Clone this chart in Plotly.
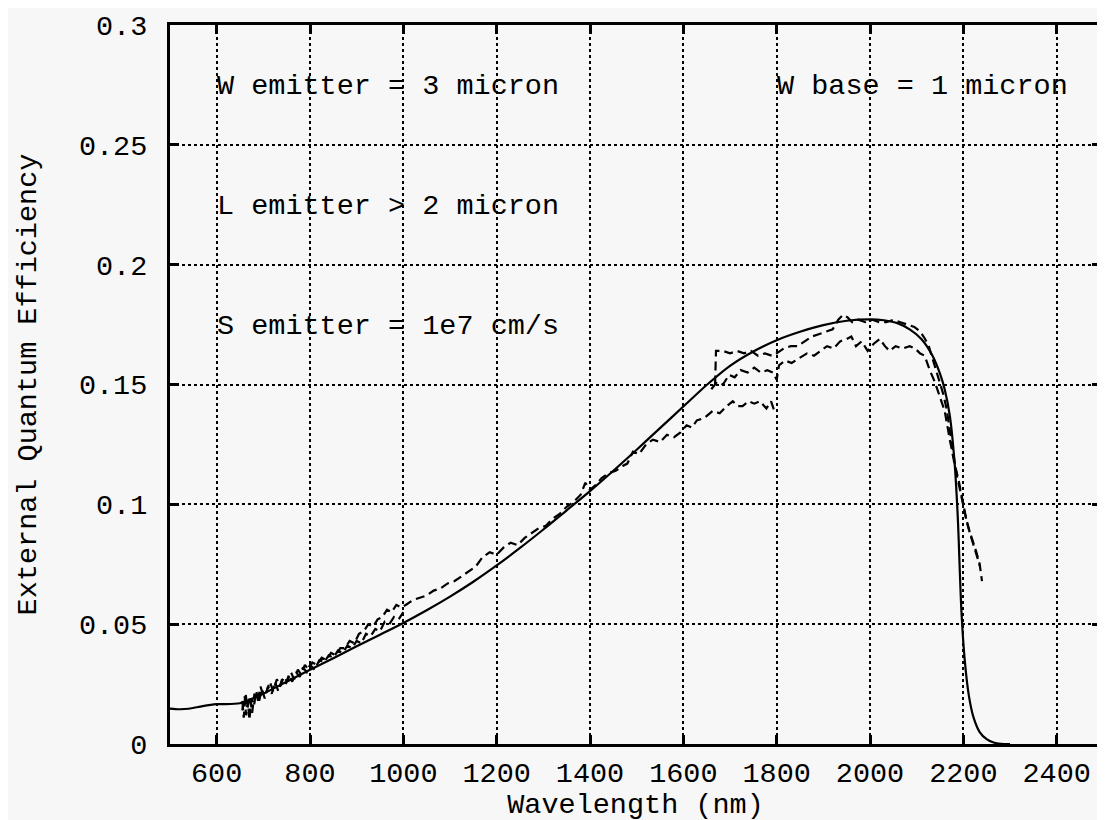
import plotly.graph_objects as go

# ---------------- data ----------------
# model (solid) curve
model_wl = [500, 520, 540, 570, 600, 650, 700, 750, 800, 850, 900, 950, 1000, 1050, 1100, 1150,
            1200, 1250, 1300, 1350, 1400, 1450, 1500, 1550, 1600, 1650, 1700, 1750, 1800, 1850,
            1900, 1950, 2000, 2030, 2060, 2085, 2110, 2134, 2150, 2160, 2171, 2181, 2188, 2196,
            2203, 2212, 2222, 2235, 2250, 2265, 2280, 2300]
model_eqe = [0.0148, 0.0145, 0.0147, 0.0158, 0.0166, 0.0170, 0.0210, 0.0260, 0.0310, 0.0358, 0.0408, 0.0456, 0.0505, 0.0558, 0.0615, 0.0677,
             0.0745, 0.0818, 0.0895, 0.0975, 0.1055, 0.1140, 0.1228, 0.1318, 0.1408, 0.1498, 0.1578, 0.1638, 0.1685, 0.1720,
             0.1748, 0.1766, 0.1772, 0.1768, 0.1755, 0.1730, 0.1690, 0.1620, 0.1545, 0.1480, 0.1370, 0.1180, 0.0950, 0.0550,
             0.0350, 0.0200, 0.0110, 0.0050, 0.0020, 0.0006, 0.0001, 0.0]

# measured trace 1 (short wavelength segment)
m1_wl = [655, 660, 663, 667, 670, 675, 680, 685, 690, 697, 703, 710, 718, 725, 732, 740, 748, 755, 762, 770,
         778, 785, 793, 800, 810, 820, 830, 840, 850, 860, 870, 880, 890, 900, 910, 920, 930, 940, 950, 960,
         970, 980, 990, 1000]
m1_eqe = [0.014, 0.020, 0.012, 0.018, 0.010, 0.019, 0.016, 0.022, 0.017, 0.023, 0.019, 0.024, 0.021, 0.026, 0.022, 0.027, 0.025, 0.029, 0.026, 0.030,
          0.028, 0.032, 0.030, 0.033, 0.031, 0.035, 0.034, 0.037, 0.036, 0.039, 0.038, 0.041, 0.040, 0.043, 0.042, 0.046, 0.045, 0.048, 0.047, 0.051,
          0.050, 0.053, 0.052, 0.055]

# measured trace 2 (short + mid wavelength segment)
m2_wl = [655, 658, 662, 666, 671, 676, 681, 688, 694, 700, 707, 714, 721, 729, 736, 744, 751, 759, 766, 774,
         781, 789, 797, 805, 815, 825, 835, 845, 855, 865, 875, 885, 895, 905, 915, 925, 935, 945, 955, 965,
         975, 985, 995, 1005, 1020, 1035, 1050, 1065, 1080, 1095, 1110, 1125, 1140, 1155, 1170, 1185, 1200, 1215,
         1230, 1245, 1260, 1275, 1290, 1305, 1320, 1335, 1350, 1365, 1380, 1390, 1400, 1412, 1425, 1440, 1455, 1470,
         1480, 1492, 1505, 1520, 1535, 1550, 1565, 1580, 1594, 1607, 1618, 1629, 1645, 1663, 1678, 1693, 1706, 1716,
         1727, 1740, 1752, 1764, 1778, 1788, 1795, 1800]
m2_eqe = [0.018, 0.011, 0.021, 0.015, 0.020, 0.013, 0.021, 0.018, 0.024, 0.020, 0.022, 0.026, 0.022, 0.027, 0.024, 0.028, 0.026, 0.030, 0.027, 0.031,
          0.029, 0.033, 0.031, 0.034, 0.033, 0.036, 0.035, 0.038, 0.037, 0.040, 0.040, 0.043, 0.042, 0.046, 0.047, 0.050, 0.049, 0.052, 0.053, 0.056,
          0.055, 0.058, 0.057, 0.058, 0.060, 0.061, 0.062, 0.064, 0.065, 0.067, 0.068, 0.070, 0.072, 0.074, 0.078, 0.080, 0.079, 0.082,
          0.084, 0.083, 0.086, 0.088, 0.090, 0.091, 0.094, 0.096, 0.099, 0.101, 0.104, 0.109, 0.106, 0.108, 0.111, 0.113, 0.114, 0.116,
          0.117, 0.122, 0.121, 0.125, 0.127, 0.126, 0.129, 0.128, 0.130, 0.133, 0.132, 0.135, 0.136, 0.139, 0.138, 0.141, 0.143, 0.141,
          0.141, 0.143, 0.142, 0.143, 0.140, 0.143, 0.139, 0.140]

# measured trace 3 (long wavelength, middle)
m3_wl = [1660, 1672, 1685, 1698, 1710, 1723, 1738, 1752, 1766, 1780, 1792, 1800, 1805, 1818, 1832, 1850, 1865, 1880, 1893, 1908,
         1922, 1936, 1950, 1960, 1970, 1982, 1995, 2008, 2021, 2032, 2042, 2055, 2070, 2085, 2097, 2107, 2117, 2128, 2139, 2150,
         2160, 2171, 2181, 2190, 2198, 2206, 2213, 2220, 2228, 2235, 2240]
m3_eqe = [0.148, 0.151, 0.150, 0.154, 0.153, 0.156, 0.155, 0.157, 0.155, 0.156, 0.155, 0.152, 0.158, 0.160, 0.159, 0.161, 0.163, 0.162, 0.164, 0.166,
          0.165, 0.168, 0.169, 0.170, 0.166, 0.168, 0.164, 0.167, 0.169, 0.166, 0.164, 0.166, 0.165, 0.166, 0.165, 0.163, 0.162, 0.156, 0.151, 0.145,
          0.139, 0.127, 0.117, 0.110, 0.102, 0.094, 0.089, 0.085, 0.080, 0.075, 0.068]

# measured trace 4 (long wavelength, upper)
m4_wl = [1668, 1670, 1685, 1700, 1715, 1730, 1745, 1760, 1775, 1790, 1800, 1815, 1830, 1845, 1860, 1875, 1890, 1905, 1920, 1932,
         1942, 1952, 1962, 1975, 1990, 2005, 2020, 2035, 2050, 2065, 2080, 2095, 2108, 2118, 2126, 2134, 2142, 2149, 2157, 2164,
         2170, 2175, 2181, 2187, 2193, 2200, 2207, 2214, 2222, 2230, 2236]
m4_eqe = [0.150, 0.164, 0.164, 0.163, 0.164, 0.163, 0.164, 0.162, 0.163, 0.162, 0.163, 0.165, 0.166, 0.166, 0.168, 0.170, 0.171, 0.172, 0.173, 0.177,
          0.179, 0.178, 0.176, 0.177, 0.176, 0.177, 0.176, 0.176, 0.177, 0.176, 0.175, 0.174, 0.172, 0.169, 0.166, 0.161, 0.156, 0.152, 0.146, 0.140,
          0.133, 0.126, 0.118, 0.111, 0.106, 0.099, 0.093, 0.088, 0.083, 0.078, 0.074]

x_ticks = [600, 800, 1000, 1200, 1400, 1600, 1800, 2000, 2200, 2400]
y_ticks = [0, 0.05, 0.1, 0.15, 0.2, 0.25, 0.3]
y_tick_text = ["0", "0.05", "0.1", "0.15", "0.2", "0.25", "0.3"]

notes = ["W emitter = 3 micron", "L emitter > 2 micron", "S emitter = 1e7 cm/s", "W base = 1 micron"]
note_x = [600, 600, 600, 1800]
note_y = [0.275, 0.225, 0.175, 0.275]

# ---------------- figure ----------------
FONT = "Liberation Mono, Courier New, monospace"
BG = "#f6f7f6"

fig = go.Figure()
dash_style = dict(color="black", width=2.2, dash="9px,5px")
for wl, eq in [(m1_wl, m1_eqe), (m2_wl, m2_eqe), (m3_wl, m3_eqe), (m4_wl, m4_eqe)]:
    fig.add_trace(go.Scatter(x=wl, y=eq, mode="lines", line=dash_style, showlegend=False))
fig.add_trace(go.Scatter(x=model_wl, y=model_eqe, mode="lines", line=dict(color="black", width=2.2),
                         line_shape="spline", line_smoothing=0.8, showlegend=False))

for t, xx, yy in zip(notes, note_x, note_y):
    fig.add_annotation(x=xx, y=yy, text=t, showarrow=False, xanchor="left", yanchor="middle",
                       font=dict(family=FONT, size=28.5, color="black"), xshift=-2, yshift=-2)

axis_common = dict(
    showline=True, linecolor="black", linewidth=3, mirror="ticks",
    ticks="inside", ticklen=9, tickwidth=3, tickcolor="black",
    showgrid=True, gridcolor="black", gridwidth=1.5, griddash="dot",
    zeroline=False, ticklabeloverflow="allow",
    tickfont=dict(family=FONT, size=28.5, color="black"),
)

fig.update_xaxes(range=[500, 2495], tickvals=x_ticks,
                 title=dict(text="Wavelength (nm)", font=dict(family=FONT, size=28.5, color="black"), standoff=0),
                 ticklabelstandoff=1, **axis_common)
fig.update_yaxes(range=[0, 0.3], tickvals=y_ticks, ticktext=y_tick_text,
                 title=dict(text="External Quantum Efficiency", font=dict(family=FONT, size=28.5, color="black"), standoff=34),
                 ticklabelstandoff=14, **axis_common)

# the page body offsets the figure by a few pixels; sizes compensate for it
fig.update_layout(
    width=1099, height=814,
    margin=dict(l=162, r=3, t=13, b=78),
    paper_bgcolor=BG, plot_bgcolor=BG,
    font=dict(family=FONT, color="black"),
)

fig.write_html("out.html")
